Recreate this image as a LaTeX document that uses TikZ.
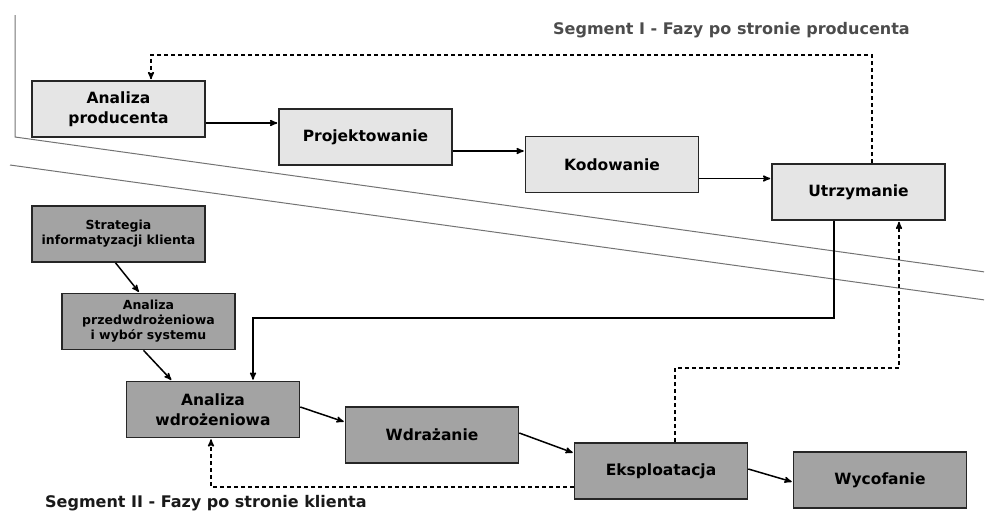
\documentclass[tikz,border=0pt]{standalone}
\usepackage{fontspec}
\setmainfont{DejaVu Sans}
\usetikzlibrary{arrows}
\tikzset{->,>=stealth',shorten >=1pt,
  phase/.style={draw=black!85,line width=1.6pt,minimum width=173pt,minimum height=56pt,
    inner sep=2pt,align=center,font=\fontsize{15.5}{19.5}\selectfont\bfseries},
  prod/.style={phase,fill=black!10},
  client/.style={phase,fill=black!36},
  small/.style={font=\fontsize{12.5}{15}\selectfont\bfseries},
  flow/.style={line width=1.5pt},
  every edge/.append style={flow},
  fb/.style={dash pattern=on 4pt off 3pt},
  border/.style={-,draw=black!55,line width=1pt},
  seg/.style={inner sep=0pt,font=\fontsize{16}{18}\selectfont\bfseries}}

\begin{document}
\begin{tikzpicture}[x=1pt,y=-1pt]
  \useasboundingbox (0,0) rectangle (985,520);

  % segment borders
  \draw[border] (15,15) -- (15,137) -- (985,272);
  \draw[border] (10,165) -- (985,300);

  \node[prod] (ap) at (118.5,109) {Analiza\\producenta};
  \node[prod] (proj) at (365.5,137) {Projektowanie};
  \node[prod] (kod) at (612,164.5) {Kodowanie};
  \node[prod] (utrz) at (858.5,192) {Utrzymanie};

  \node[client,small] (strat) at (118.5,234) {Strategia\\informatyzacji klienta};
  \node[client,small] (apw) at (148.5,321.5) {Analiza\\przedwdrożeniowa\\i wybór systemu};
  \node[client] (aw) at (213,409.5) {Analiza\\wdrożeniowa};
  \node[client] (wdr) at (432,435) {Wdrażanie};
  \node[client] (eks) at (661,471) {Eksploatacja};
  \node[client] (wyc) at (880,480) {Wycofanie};

  \coordinate (apo) at ([yshift=-14pt]ap.east);
  \coordinate (projo) at ([yshift=-14pt]proj.east);
  \coordinate (kodo) at ([yshift=-14pt]kod.east);

  \path
  (apo) edge (apo -| proj.west)
  (projo) edge (projo -| kod.west)
  (kodo) edge (kodo -| utrz.west)
  ([xshift=-3pt]strat.south) edge ([xshift=-9pt]apw.north)
  ([xshift=-5pt]apw.south) edge ([xshift=-41pt]aw.north)
  ([yshift=2.5pt]aw.east) edge ([yshift=13pt]wdr.west)
  ([yshift=2pt]wdr.east) edge ([yshift=18pt]eks.west)
  ([yshift=2pt]eks.east) edge ([yshift=-2pt]wyc.west)
  ;

  % feedback loops
  \coordinate (u1) at (872,55);
  \coordinate (u2) at (151,55);
  \draw[flow,fb] (utrz.north -| u1) -- (u1) -- (u2) -- (ap.north -| u2);

  \coordinate (u3) at (834,318);
  \coordinate (u4) at (253,318);
  \draw[flow] (utrz.south -| u3) -- (u3) -- (u4) -- (aw.north -| u4);

  \coordinate (e1) at (675,368);
  \coordinate (e2) at (899,368);
  \draw[flow,fb] (eks.north -| e1) -- (e1) -- (e2) -- (utrz.south -| e2);

  \coordinate (e3) at (211,487);
  \draw[flow,fb] (eks.west |- e3) -- (e3) -- (aw.south -| e3);

  \node[seg,text=black!70,anchor=west] (s1) at (553,30) {Segment I - Fazy po stronie producenta};
  \node[seg,text=black!90,anchor=west] (s2) at (45,503) {Segment II - Fazy po stronie klienta};
\end{tikzpicture}
\end{document}
